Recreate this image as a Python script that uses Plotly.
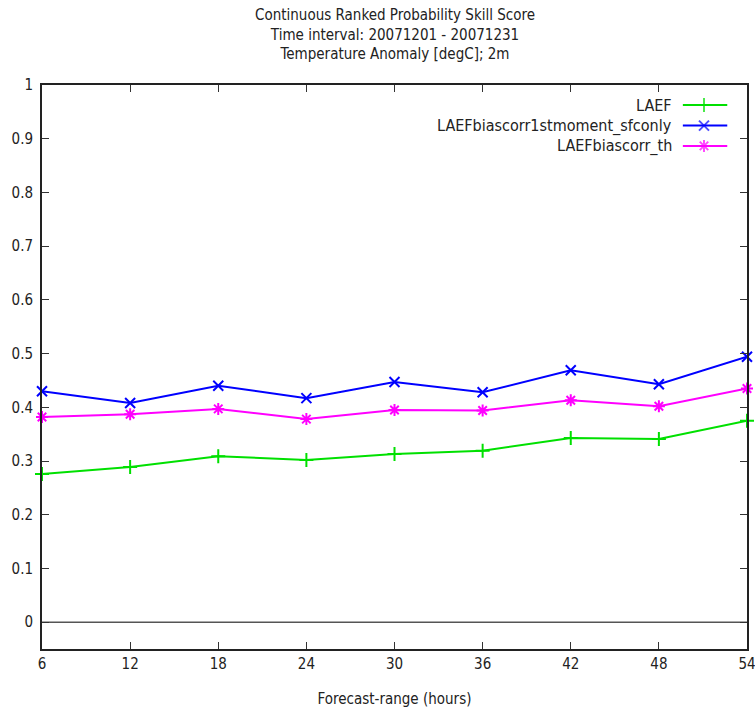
import plotly.graph_objects as go

hours = [6, 12, 18, 24, 30, 36, 42, 48, 54]
laef = [0.276, 0.289, 0.309, 0.302, 0.313, 0.319, 0.343, 0.341, 0.375]
laef_sfc = [0.430, 0.408, 0.440, 0.417, 0.447, 0.428, 0.469, 0.443, 0.494]
laef_th = [0.382, 0.387, 0.397, 0.378, 0.395, 0.394, 0.413, 0.402, 0.435]

names = ["LAEF", "LAEFbiascorr1stmoment_sfconly", "LAEFbiascorr_th"]
series = [laef, laef_sfc, laef_th]
colors = ["#00e000", "#0000ff", "#ff00ff"]
symbols = ["cross-thin", "x-thin", "asterisk-open"]

FONT = "Liberation Sans Narrow, DejaVu Sans Condensed, sans-serif"

fig = go.Figure()

# zero line
fig.add_trace(go.Scatter(x=[hours[0], hours[-1]], y=[0, 0], mode="lines",
                         line=dict(color="#555555", width=1.5),
                         showlegend=False, hoverinfo="skip"))

for name, vals, c, s in zip(names, series, colors, symbols):
    fig.add_trace(go.Scatter(
        x=hours, y=vals, mode="lines+markers", name=name,
        line=dict(color=c, width=2),
        marker=dict(symbol=s, size=10, color=c, line=dict(color=c, width=2)),
        showlegend=False, cliponaxis=False))

# custom legend (text then key, like gnuplot)
leg_y = [0.9645, 0.928, 0.892]
for name, c, s, ly in zip(names, colors, symbols, leg_y):
    fig.add_trace(go.Scatter(
        x=[0.909, 0.939, 0.972], y=[ly, ly, ly], mode="lines+markers",
        xaxis="x2", yaxis="y2",
        line=dict(color=c, width=2),
        marker=dict(symbol=s, size=[0, 10, 0], color=c, line=dict(color=c, width=2)),
        showlegend=False, hoverinfo="skip"))
    fig.add_annotation(x=0.897, y=ly, xref="paper", yref="paper", text=name,
                       showarrow=False, xanchor="right", yanchor="middle",
                       font=dict(family=FONT, size=16, color="#222222"))

fig.add_annotation(
    x=0.5, y=1, xref="paper", yref="paper", yanchor="bottom", xanchor="center",
    yshift=20, showarrow=False, align="center",
    text="Continuous Ranked Probability Skill Score<br>Time interval: 20071201 - 20071231<br>Temperature Anomaly [degC]; 2m",
    font=dict(family=FONT, size=15, color="#222222"))

fig.update_layout(
    width=755, height=711,
    margin=dict(l=42, r=8, t=85, b=62),
    paper_bgcolor="white", plot_bgcolor="white",
    font=dict(family=FONT, size=15, color="#222222"),
    xaxis=dict(range=[6, 54], tickvals=hours, ticks="inside", ticklen=7,
               tickcolor="#333333", showline=True, linecolor="#222222", linewidth=2,
               mirror="ticks", showgrid=False, zeroline=False, automargin=False,
               ticklabeloverflow="allow",
               title=dict(text="Forecast-range (hours)", standoff=21,
                          font=dict(family=FONT, size=15, color="#222222")),
               tickfont=dict(family=FONT, size=15)),
    yaxis=dict(range=[-0.05, 1], dtick=0.1, tick0=0, ticks="inside", ticklen=7,
               tickcolor="#333333", showline=True, linecolor="#222222", linewidth=2,
               mirror="ticks", showgrid=False, zeroline=False, automargin=False,
               ticklabeloverflow="allow", ticklabelstandoff=4,
               tickfont=dict(family=FONT, size=15)),
    xaxis2=dict(overlaying="x", range=[0, 1], visible=False, fixedrange=True),
    yaxis2=dict(overlaying="y", range=[0, 1], visible=False, fixedrange=True),
)

fig.write_html("out.html", config={"displayModeBar": False},
               post_script="document.body.style.margin='0px';")
